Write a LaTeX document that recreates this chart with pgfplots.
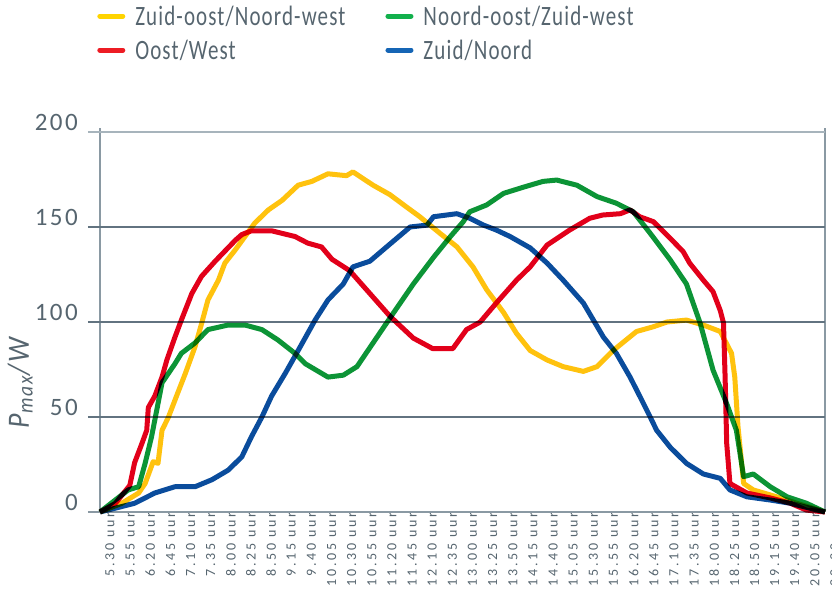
\documentclass[border=0pt]{standalone}
\usepackage{fontspec}
\usepackage{pgfplots}
\pgfplotsset{compat=1.18}
\setmainfont{Carlito}
\newfontfamily\legfont[FakeStretch=0.75, LetterSpace=4]{Carlito}
\newfontfamily\ylabfont[FakeStretch=0.9, LetterSpace=8]{Carlito}
\newfontfamily\yfont[LetterSpace=10]{Carlito}
\newfontfamily\xfont[LetterSpace=20]{Carlito}
\definecolor{txt}{HTML}{56656F}
\definecolor{gridc}{HTML}{627380}
\definecolor{gridl}{HTML}{A7B4BC}
\definecolor{axc}{HTML}{8A99A3}
\definecolor{cyel}{HTML}{FFC20E}
\definecolor{cred}{HTML}{E2001A}
\definecolor{cgrn}{HTML}{0C9436}
\definecolor{cblu}{HTML}{0A4C9C}
\definecolor{lyel}{HTML}{FFD400}
\definecolor{lred}{HTML}{ED1C24}
\definecolor{lgrn}{HTML}{12B04C}
\definecolor{lblu}{HTML}{1565B5}
\begin{document}
\begin{tikzpicture}
\path[use as bounding box] (0,0) rectangle (832pt,596pt);
\begin{axis}[
  at={(100pt,84pt)}, anchor=south west,
  scale only axis, width=725pt, height=383.8pt,
  xmin=0, xmax=900, ymin=0, ymax=202,
  clip=false,
  axis line style={draw=none},
  tick style={draw=none},
  xtick={0,25,...,900},
  xticklabels={5.30 uur,5.55 uur,6.20 uur,6.45 uur,7.10 uur,7.35 uur,8.00 uur,8.25 uur,8.50 uur,9.15 uur,9.40 uur,10.05 uur,10.30 uur,10.55 uur,11.20 uur,11.45 uur,12.10 uur,12.35 uur,13.00 uur,13.25 uur,13.50 uur,14.15 uur,14.40 uur,15.05 uur,15.30 uur,15.55 uur,16.20 uur,16.45 uur,17.10 uur,17.35 uur,18.00 uur,18.25 uur,18.50 uur,19.15 uur,19.40 uur,20.05 uur,20.30 uur},
  xticklabel style={rotate=90, anchor=east, inner sep=0pt, yshift=-10pt, font=\xfont\fontsize{14}{16}\selectfont, text=txt},
  ytick={0,50,100,150,200},
  yticklabels={0,50,100,150,200},
  yticklabel style={anchor=base east, inner sep=0pt, xshift=-22pt, yshift=1pt, font=\yfont\fontsize{25}{28}\selectfont, text=txt},
  /pgf/number format/assume math mode=true,
  ylabel={\itshape P\textsubscript{max}/W},
  ylabel style={at={(axis description cs:-0.11,0.336)}, anchor=center, inner sep=0pt, font=\ylabfont\fontsize{31}{34}\selectfont, text=txt},
  legend columns=2,
  legend cell align=left,
  legend style={at={(-0.004,1.325)}, anchor=north west, draw=none, fill=none, font=\legfont\fontsize{28}{31}\selectfont, text=txt, row sep=9pt, inner sep=0pt,
    /tikz/every even column/.append style={column sep=38pt},
    /tikz/every odd column/.append style={column sep=8pt}},
  legend image code/.code={\draw[#1, line width=5pt, line cap=round] (2pt,0pt) -- (25pt,0pt);},
]
% frame and grid
\draw[axc, line width=2pt] (axis cs:0,0) -- (axis cs:0,202);
\draw[axc, line width=2pt] (axis cs:900,0) -- (axis cs:900,202);
\draw[gridl, line width=2pt] (axis cs:0,200) ++(-12pt,0) -- (axis cs:900,200);
\draw[gridc, line width=2pt] (axis cs:0,150) ++(-12pt,0) -- (axis cs:900,150);
\draw[gridc, line width=2pt] (axis cs:0,100) ++(-12pt,0) -- (axis cs:900,100);
\draw[gridc, line width=2pt] (axis cs:0,50) ++(-12pt,0) -- (axis cs:900,50);
\draw[axc, line width=2.5pt] (axis cs:0,0) ++(-12pt,0) -- (axis cs:900,0);
% legend entries
\addlegendimage{lyel}\addlegendentry{Zuid-oost/Noord-west}
\addlegendimage{lgrn}\addlegendentry{Noord-oost/Zuid-west}
\addlegendimage{lred}\addlegendentry{Oost/West}
\addlegendimage{lblu}\addlegendentry{Zuid/Noord}
% Zuid-oost/Noord-west
\addplot[forget plot, cyel, line width=5pt, line join=round, blend mode=multiply] coordinates {
(0,0) (27,4.6) (48,10) (56,15) (66,26.5) (72,25.6) (77,43) (85,50) (95,61) (106,73) (118,87) (126,99) (134,111.6) (147,122) (155,131) (168,138) (180,145) (192,152) (209,159) (226,164) (246,172) (263,174) (283,178) (306,177) (314,179) (339,172) (360,167) (377,161.6) (397,155.4) (422,146.7) (443,139.6) (463,129) (480,117) (501,105) (517,94) (534,85) (555,80) (575,76.5) (600,74) (617,76.5) (637,85) (666,95) (687,97.5) (704,100) (728,101) (749,98.4) (770,95) (784,83.5) (788,71) (792,45) (799,15) (811,11.6) (840,8) (865,4.6) (900,0)
};
% Noord-oost/Zuid-west
\addplot[forget plot, cgrn, line width=5pt, line join=round, blend mode=multiply] coordinates {
(0,0) (19,6.3) (35,11.6) (48,13.3) (56,25.6) (64,39.6) (72,57) (77,68) (93,78) (101,83.5) (118,89) (134,96) (159,98.4) (180,98.4) (201,96) (221,90.5) (242,83.5) (255,78) (283,71) (302,72) (319,76.5) (339,89) (364,104.6) (389,120) (414,134) (435,145) (451,152.8) (459,158) (480,161.6) (501,167.7) (526,171) (550,174) (567,174.7) (592,172) (617,166) (641,162.5) (662,158) (683,146.7) (708,132.6) (728,120) (745,99.4) (761,74.7) (778,57) (790,43) (799,18.6) (811,20) (832,13.3) (853,8) (877,4.6) (900,0)
};
% Oost/West
\addplot[forget plot, cred, line width=5pt, line join=round, blend mode=multiply] coordinates {
(0,0) (19,4.5) (37,14) (43,26) (52,36) (58,43) (60,55) (68,61) (77,71) (83,80) (93,92) (101,101) (114,115) (126,124) (143,132) (168,143) (176,146) (188,148) (213,148) (242,145) (258,141.5) (275,139.5) (288,133) (310,127) (335,115) (360,103) (389,91.5) (413,86) (438,86) (455,96) (472,100) (492,110) (517,122) (534,129) (555,140.5) (583,148.4) (608,154.6) (624,156.3) (646,157) (658,159) (670,155.4) (687,152.8) (708,144) (724,137) (732,131) (749,122) (761,116) (770,106) (774,99.5) (776,71) (778,36) (782,15) (803,10) (832,7.4) (857,4.6) (877,1) (900,0)
};
% Zuid/Noord
\addplot[forget plot, cblu, line width=5pt, line join=round, blend mode=multiply] coordinates {
(0,0) (19,2) (43,4.6) (68,10) (93,13.3) (118,13.3) (139,17) (159,22) (176,29) (188,39.6) (201,50) (213,61) (230,73) (246,85) (267,101) (283,111.6) (302,120) (314,129) (335,132) (356,139.6) (385,150) (406,151) (414,155.4) (443,157) (459,154.6) (476,151) (492,148.4) (509,145) (534,139) (555,131) (575,122) (600,110) (625,92) (641,83.5) (658,71) (670,61) (683,50) (691,43) (708,34) (728,25.6) (749,20) (770,17.7) (782,11.6) (803,8) (832,6.3) (857,4.6) (900,0)
};
\end{axis}
\end{tikzpicture}
\end{document}
